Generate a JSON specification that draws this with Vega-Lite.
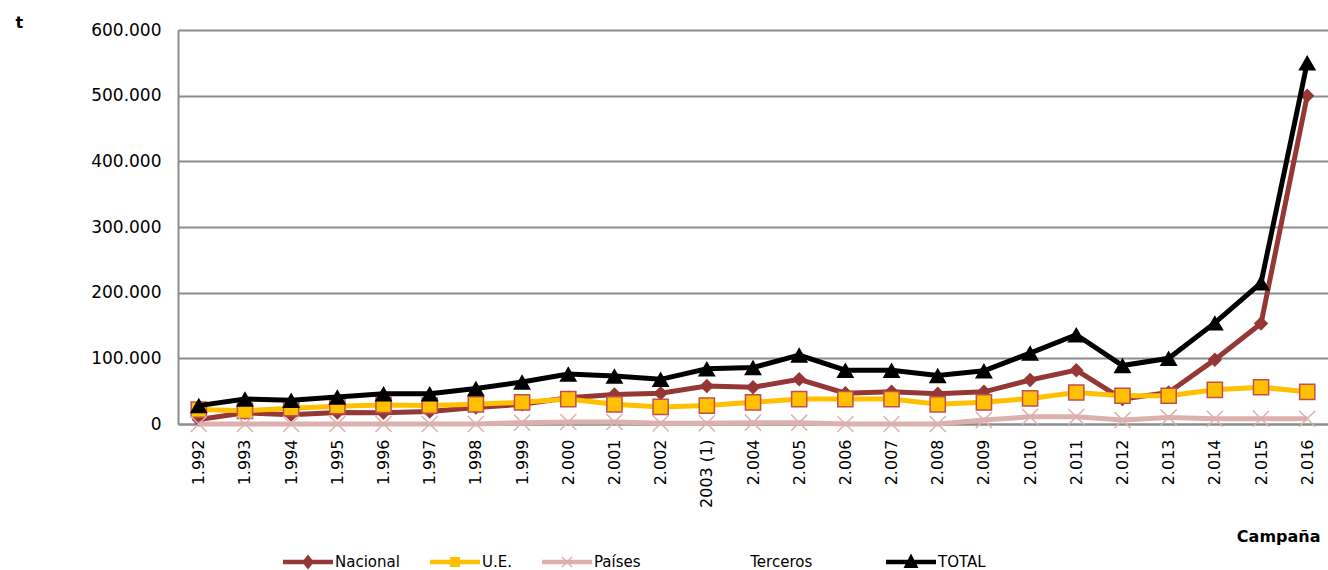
{
  "$schema": "https://vega.github.io/schema/vega-lite/v6.json",
  "width": 1150,
  "height": 394,
  "autosize": {"type": "none"},
  "padding": {"left": 178, "top": 30, "right": 0, "bottom": 146},
  "background": "white",
  "config": {
    "view": {"stroke": null},
    "locale": {"number": {"decimal": ",", "thousands": ".", "grouping": [3], "currency": ["", " €"]}},
    "font": "DejaVu Sans"
  },
  "data": {
    "values": [
      {"c": "1.992", "nac": 7000, "ue": 22000, "pt": 0, "tot": 28000},
      {"c": "1.993", "nac": 17000, "ue": 20000, "pt": 0, "tot": 38000},
      {"c": "1.994", "nac": 14000, "ue": 24000, "pt": 0, "tot": 36000},
      {"c": "1.995", "nac": 17500, "ue": 27000, "pt": 0, "tot": 41000},
      {"c": "1.996", "nac": 17000, "ue": 29000, "pt": 0, "tot": 46000},
      {"c": "1.997", "nac": 19000, "ue": 28000, "pt": 0, "tot": 46000},
      {"c": "1.998", "nac": 25000, "ue": 30000, "pt": 0, "tot": 54000},
      {"c": "1.999", "nac": 30000, "ue": 33000, "pt": 2000, "tot": 64000},
      {"c": "2.000", "nac": 40000, "ue": 38000, "pt": 3000, "tot": 76000},
      {"c": "2.001", "nac": 45000, "ue": 30000, "pt": 3000, "tot": 73000},
      {"c": "2.002", "nac": 47000, "ue": 26000, "pt": 1000, "tot": 68000},
      {"c": "2003 (1)", "nac": 58000, "ue": 28000, "pt": 1000, "tot": 84000},
      {"c": "2.004", "nac": 56000, "ue": 33000, "pt": 2000, "tot": 86000},
      {"c": "2.005", "nac": 68000, "ue": 38000, "pt": 2000, "tot": 105000},
      {"c": "2.006", "nac": 47000, "ue": 38000, "pt": 0, "tot": 82000},
      {"c": "2.007", "nac": 49000, "ue": 38000, "pt": 0, "tot": 82000},
      {"c": "2.008", "nac": 46000, "ue": 30000, "pt": 0, "tot": 74000},
      {"c": "2.009", "nac": 49000, "ue": 33000, "pt": 6000, "tot": 81000},
      {"c": "2.010", "nac": 67000, "ue": 39000, "pt": 11000, "tot": 108000},
      {"c": "2.011", "nac": 82000, "ue": 48000, "pt": 11000, "tot": 136000},
      {"c": "2.012", "nac": 38000, "ue": 43000, "pt": 6000, "tot": 89000},
      {"c": "2.013", "nac": 48000, "ue": 43000, "pt": 10000, "tot": 100000},
      {"c": "2.014", "nac": 98000, "ue": 52000, "pt": 8000, "tot": 154000},
      {"c": "2.015", "nac": 153000, "ue": 56000, "pt": 8000, "tot": 215000},
      {"c": "2.016", "nac": 500000, "ue": 49000, "pt": 8000, "tot": 550000}
    ]
  },
  "encoding": {
    "x": {
      "field": "c", "type": "ordinal", "sort": null,
      "scale": {"type": "point", "padding": 0.45},
      "axis": {
        "title": "Campaña", "titleFont": "DejaVu Sans", "titleFontSize": 16, "titleFontWeight": "bold", "titleColor": "#000",
        "titleAnchor": "end", "titleAlign": "right", "titleX": 1142, "titleY": 112, "titleBaseline": "middle",
        "labelAngle": -90, "labelFont": "DejaVu Sans", "labelFontSize": 16, "labelColor": "#000", "labelPadding": 15,
        "ticks": false, "domain": true, "domainColor": "#8c8c8c", "domainWidth": 2, "grid": false
      }
    }
  },
  "layer": [
    {
      "mark": {"type": "line", "color": "#953735", "strokeWidth": 5,
        "point": {"shape": "diamond", "filled": true, "color": "#953735", "size": 210}},
      "encoding": {"y": {"field": "nac", "type": "quantitative",
        "scale": {"domain": [0, 600000]},
        "axis": {
          "title": "t", "titleAngle": 0, "titleX": -163, "titleY": -8, "titleAlign": "left", "titleBaseline": "middle",
          "titleFont": "DejaVu Sans", "titleFontSize": 16, "titleFontWeight": "bold", "titleColor": "#000",
          "values": [0, 100000, 200000, 300000, 400000, 500000, 600000], "format": ",d",
          "labelFont": "DejaVu Sans", "labelFontSize": 17, "labelColor": "#000", "labelPadding": 17,
          "ticks": false, "domain": true, "domainColor": "#8c8c8c", "domainWidth": 2,
          "grid": true, "gridColor": "#8c8c8c", "gridWidth": 2
        }}}
    },
    {
      "mark": {"type": "line", "color": "#FFC000", "strokeWidth": 5,
        "point": {"shape": "square", "filled": true, "fill": "#FFC000", "stroke": "#C0504D", "strokeWidth": 1.5, "size": 230}},
      "encoding": {"y": {"field": "ue", "type": "quantitative"}}
    },
    {
      "mark": {"type": "line", "color": "#DDB0B0", "strokeWidth": 5,
        "point": {"shape": "M-1,-1L1,1M-1,1L1,-1", "filled": false, "stroke": "#DDB0B0", "strokeWidth": 1.5, "size": 260}},
      "encoding": {"y": {"field": "pt", "type": "quantitative"}}
    },
    {
      "mark": {"type": "line", "color": "#000000", "strokeWidth": 5,
        "point": {"shape": "triangle-up", "filled": true, "color": "#000000", "size": 320}},
      "encoding": {"y": {"field": "tot", "type": "quantitative"}}
    },
    {
      "transform": [
        {"fold": ["nac", "ue", "pt", "tot"], "as": ["s", "v"]},
        {"filter": "datum.v < 0"}
      ],
      "mark": {"type": "point", "filled": true, "opacity": 1, "strokeWidth": 0},
      "encoding": {
        "y": {"field": "v", "type": "quantitative"},
        "color": {
          "field": "s", "type": "nominal",
          "scale": {"domain": ["nac", "ue", "pt", "tot"], "range": ["#953735", "#FFC000", "#DDB0B0", "#000000"]},
          "legend": {
            "title": null, "orient": "none", "direction": "horizontal", "legendX": 105, "legendY": 507,
            "symbolSize": 2500, "symbolStrokeWidth": 0, "labelOffset": 2, "columnPadding": 30,
            "labelFont": "DejaVu Sans", "labelFontSize": 15, "labelColor": "#000", "labelLimit": 0,
            "labelExpr": "datum.label == 'nac' ? 'Nacional' : datum.label == 'ue' ? 'U.E.' : datum.label == 'pt' ? 'Países\u00a0\u00a0\u00a0\u00a0\u00a0\u00a0\u00a0\u00a0\u00a0\u00a0\u00a0\u00a0\u00a0\u00a0\u00a0\u00a0\u00a0\u00a0\u00a0\u00a0\u00a0\u00a0\u00a0Terceros\u00a0\u00a0\u00a0\u00a0\u00a0\u00a0\u00a0\u00a0\u00a0\u200b' : 'TOTAL'"
          }
        },
        "shape": {
          "field": "s", "type": "nominal",
          "scale": {"domain": ["nac", "ue", "pt", "tot"], "range": [
            "M-1,-0.09H1V0.09H-1Z M0,-0.3L0.24,0L0,0.3L-0.24,0Z",
            "M-1,-0.09H1V0.09H-1Z M-0.2,-0.2H0.2V0.2H-0.2Z",
            "M-1,-0.09H1V0.09H-1Z M-0.22,-0.18L-0.18,-0.22L0,-0.04L0.18,-0.22L0.22,-0.18L0.04,0L0.22,0.18L0.18,0.22L0,0.04L-0.18,0.22L-0.22,0.18L-0.04,0Z",
            "M-1,-0.09H1V0.09H-1Z M0,-0.34L0.3,0.24H-0.3Z"
          ]},
          "legend": {
            "title": null, "orient": "none", "direction": "horizontal", "legendX": 105, "legendY": 507,
            "symbolSize": 2500, "symbolStrokeWidth": 0, "labelOffset": 2, "columnPadding": 30,
            "labelFont": "DejaVu Sans", "labelFontSize": 15, "labelColor": "#000", "labelLimit": 0,
            "labelExpr": "datum.label == 'nac' ? 'Nacional' : datum.label == 'ue' ? 'U.E.' : datum.label == 'pt' ? 'Países\u00a0\u00a0\u00a0\u00a0\u00a0\u00a0\u00a0\u00a0\u00a0\u00a0\u00a0\u00a0\u00a0\u00a0\u00a0\u00a0\u00a0\u00a0\u00a0\u00a0\u00a0\u00a0\u00a0Terceros\u00a0\u00a0\u00a0\u00a0\u00a0\u00a0\u00a0\u00a0\u00a0\u200b' : 'TOTAL'"
          }
        }
      }
    }
  ]
}
